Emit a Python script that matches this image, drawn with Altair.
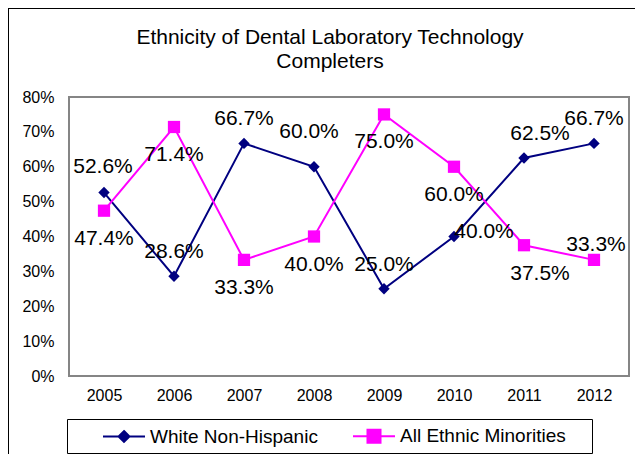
import json
import altair as alt
import pandas as pd

# ---------------- data ----------------
years = ["2005", "2006", "2007", "2008", "2009", "2010", "2011", "2012"]
white = [52.6, 28.6, 66.7, 60.0, 25.0, 40.0, 62.5, 66.7]
minorities = [47.4, 71.4, 33.3, 40.0, 75.0, 60.0, 37.5, 33.3]
series_names = ["White Non-Hispanic", "All Ethnic Minorities"]
y_ticks = [0, 10, 20, 30, 40, 50, 60, 70, 80]
title_lines = ["Ethnicity of Dental Laboratory Technology", "Completers"]

rows = []
for name, vals in zip(series_names, [white, minorities]):
    for yr, v in zip(years, vals):
        rows.append({"year": yr, "series": name, "value": v})
df = pd.DataFrame(rows)
one = pd.DataFrame({"k": [0]})

# ---------------- styles ----------------
FONT = "Liberation Sans"
NAVY = "#000080"
MAG = "#FF00FF"
colors = [NAVY, MAG]
shapes = ["diamond", "square"]
sizes = [130, 150]

x_enc = alt.X(
    "year:O",
    scale=alt.Scale(type="point", domain=years, padding=0.5),
    axis=alt.Axis(title=None, labelAngle=0, ticks=False, domain=False, grid=False,
                  labelFontSize=16, labelFont=FONT, labelColor="black", labelPadding=11),
)
y_enc = alt.Y(
    "value:Q",
    scale=alt.Scale(domain=[0, 80], nice=False, zero=True),
    axis=alt.Axis(title=None, values=y_ticks, labelExpr="datum.value + '%'", ticks=False,
                  domain=False, grid=False, labelFontSize=16, labelFont=FONT,
                  labelColor="black", labelPadding=15),
)

base = alt.Chart(df)

series_layers = []
for name, col in zip(series_names, colors):
    sel = base.transform_filter(alt.datum.series == name)
    series_layers.append(sel.mark_line(strokeWidth=2, color=col).encode(x=x_enc, y=y_enc))
for name, col, shp, sz in zip(series_names, colors, shapes, sizes):
    sel = base.transform_filter(alt.datum.series == name)
    series_layers.append(sel.mark_point(shape=shp, filled=True, size=sz, opacity=1, color=col)
                         .encode(x=x_enc, y=y_enc))


def label_layer(series, yrs, dx, dy):
    expr = "datum.series == %s && indexof(%s, datum.year) >= 0" % (json.dumps(series), json.dumps(yrs))
    return (
        base.transform_filter(expr)
        .transform_calculate(label="format(datum.value, '.1f') + '%'")
        .mark_text(dx=dx, dy=dy, fontSize=21, font=FONT, color="black", baseline="middle", align="center")
        .encode(x=x_enc, y=y_enc, text="label:N")
    )


W, M = series_names
labels = [
    label_layer(W, ["2005"], -1, -26),
    label_layer(W, ["2006", "2007", "2009", "2012"], 0, -24),
    label_layer(W, ["2008"], -5, -35),
    label_layer(W, ["2010"], 30, -5),
    label_layer(W, ["2011"], 16, -24),
    label_layer(M, ["2005", "2006", "2007", "2008", "2009", "2010"], 0, 28),
    label_layer(M, ["2011"], 16, 29),
    label_layer(M, ["2012"], 2, -15),
]

# decorative frames
outer_top = alt.Chart(one).mark_rule(color="black", strokeWidth=1).encode(
    x=alt.value(-61), x2=alt.value(620), y=alt.value(-88.5))
outer_left = alt.Chart(one).mark_rule(color="black", strokeWidth=1).encode(
    x=alt.value(-60.5), y=alt.value(-89), y2=alt.value(420))
legend_box = alt.Chart(one).mark_rect(fill="transparent", stroke="black", strokeWidth=1).encode(
    x=alt.value(-1.5), x2=alt.value(523.5), y=alt.value(322.5), y2=alt.value(356.5))

# legend generated from scales (its own marks have zero size)
path_w = "M-1,0L1,0M0,-0.26L0.26,0L0,0.26L-0.26,0Z"
path_m = "M-1,0L1,0M-0.31,-0.31L0.31,-0.31L0.31,0.31L-0.31,0.31Z"
leg = alt.Legend(title=None, orient="none", legendX=33, legendY=317, direction="horizontal",
                 labelFontSize=19, labelFont=FONT, labelColor="black", labelLimit=400,
                 symbolSize=1764, symbolStrokeWidth=2, symbolOpacity=1, labelOffset=4,
                 columnPadding=31, padding=0)
legend_layer = base.mark_point(filled=True, size=0, strokeWidth=2).encode(
    x=x_enc, y=y_enc,
    fill=alt.Fill("series:N", scale=alt.Scale(domain=series_names, range=colors), legend=leg),
    stroke=alt.Stroke("series:N", scale=alt.Scale(domain=series_names, range=colors), legend=leg),
    shape=alt.Shape("series:N", scale=alt.Scale(domain=series_names, range=[path_w, path_m]), legend=leg),
)

chart = alt.layer(
    outer_top, outer_left, legend_box, *series_layers, *labels, legend_layer
).properties(
    width=560,
    height=279,
    title=alt.TitleParams(text=title_lines, fontSize=21, font=FONT, fontWeight="normal",
                          anchor="middle", dx=-19, dy=64, offset=0, color="black", lineHeight=24),
    autosize=alt.AutoSizeParams(type="none"),
    padding={"left": 61, "top": 89, "right": 6, "bottom": 78},
    background="white",
).configure_view(stroke="#858585", strokeWidth=2)

chart.save("out.html", embed_options={"renderer": "svg", "actions": False})
